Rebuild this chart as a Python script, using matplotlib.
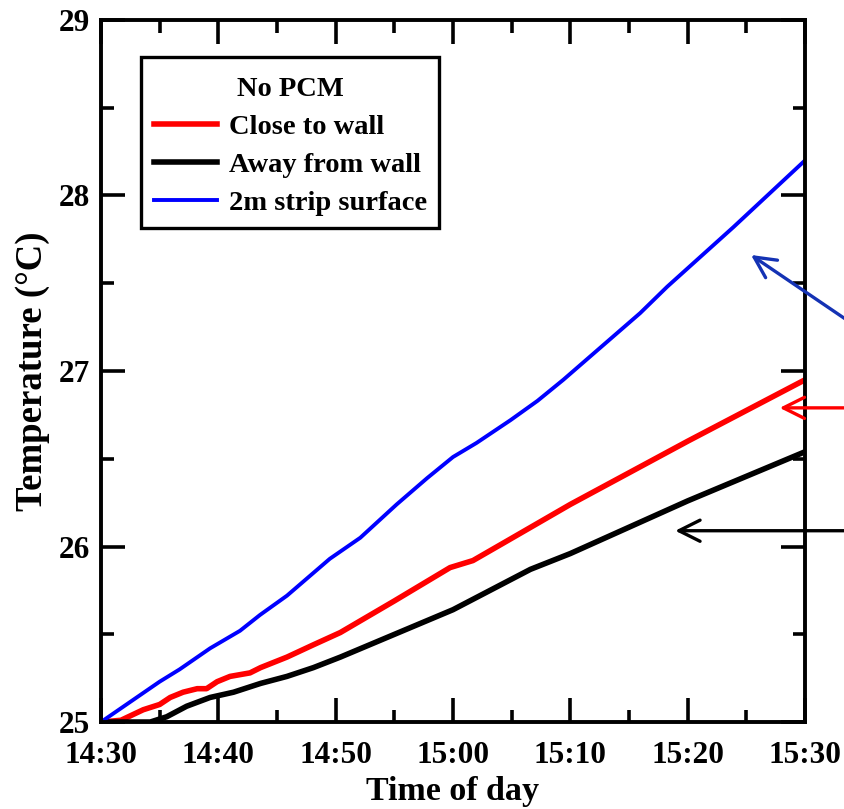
import numpy as np
import matplotlib.pyplot as plt
from matplotlib.patches import Rectangle
from matplotlib.ticker import MultipleLocator, FuncFormatter

# minutes after 14:30 and temperatures
t_blue = [0, 5, 6.7, 9.3, 11.85, 13.55, 15.85, 19.5, 22.1, 25.2, 27.8, 30, 32,
          34.9, 37.2, 39.4, 45.95, 48.25, 53.9, 60]
blue = [25.0, 25.23, 25.30, 25.42, 25.52, 25.61, 25.72, 25.93, 26.05, 26.24,
        26.39, 26.51, 26.59, 26.72, 26.83, 26.95, 27.33, 27.48, 27.82, 28.20]

t_red = [0, 1.7, 3.6, 5, 5.9, 7, 8.2, 9, 9.9, 11, 12.7, 13.6, 15.85, 18.1, 20.4,
         25, 29.75, 31.7, 34.3, 40, 50, 60]
red = [25.0, 25.01, 25.07, 25.10, 25.14, 25.17, 25.19, 25.19, 25.23, 25.26,
       25.28, 25.31, 25.37, 25.44, 25.51, 25.69, 25.88, 25.92, 26.02, 26.24,
       26.60, 26.95]

t_black = [0, 4.2, 5.6, 7.3, 9.3, 11.3, 13.6, 15.85, 18.1, 20.4, 30, 36.6, 40,
           50, 60]
black = [25.0, 25.0, 25.03, 25.09, 25.14, 25.17, 25.22, 25.26, 25.31, 25.37,
         25.64, 25.87, 25.96, 26.26, 26.54]

legend_title = 'No PCM'
labels = ['Close to wall', 'Away from wall', '2m strip surface']

plt.rcParams['font.family'] = 'Liberation Serif'
plt.rcParams['font.weight'] = 'bold'

fig = plt.figure(figsize=(8.45, 8.09), dpi=100)
ax = fig.add_axes([0.1195, 0.1075, 0.8332, 0.8678])

ax.plot(t_red, red, color='#ff0000', lw=4.0, label=labels[0])
ax.plot(t_black, black, color='black', lw=4.0, label=labels[1])
ax.plot(t_blue, blue, color='#0000ff', lw=2.8, label=labels[2])

ax.set_xlim(0, 60)
ax.set_ylim(25, 29)
ax.xaxis.set_major_locator(MultipleLocator(10))
ax.xaxis.set_minor_locator(MultipleLocator(5))
ax.yaxis.set_major_locator(MultipleLocator(1))
ax.yaxis.set_minor_locator(MultipleLocator(0.5))


def fmt_time(m, pos):
    total = 14 * 60 + 30 + int(round(m))
    return f'{total // 60}:{total % 60:02d}'


ax.xaxis.set_major_formatter(FuncFormatter(fmt_time))
ax.tick_params(which='both', direction='in', top=True, right=True, width=2.6,
               labelsize=22.5)
ax.tick_params(axis='x', pad=14)
ax.tick_params(axis='y', pad=8)
ax.tick_params(which='major', length=17)
ax.tick_params(which='minor', length=9)
for s in ax.spines.values():
    s.set_linewidth(2.8)

ax.set_xlabel('Time of day', fontsize=24.5, fontweight='bold', labelpad=4)
ax.set_ylabel('Temperature (°C)', fontsize=26.5, fontweight='bold', labelpad=6)

leg = ax.legend(title=legend_title, loc='upper left', bbox_to_anchor=(0.057, 0.937),
                fontsize=20.5, title_fontproperties={'size': 20.5, 'weight': 'bold'},
                frameon=False, handlelength=2.2, handletextpad=0.42,
                labelspacing=0.42, borderpad=0.45, borderaxespad=0)
# legend frame drawn separately so the padding can be uneven like the original
ax.add_patch(Rectangle((0.057, 0.7037), 0.423, 0.2433, transform=ax.transAxes,
                       fill=False, edgecolor='black', lw=2.4, zorder=5))

# arrows pointing at each curve from outside the right spine
ax.annotate('', xy=(55.2, 27.67), xytext=(66, 27.18),
            arrowprops=dict(arrowstyle='->', color='#1432b4', lw=2.4, mutation_scale=38),
            annotation_clip=False)
ax.annotate('', xy=(57.6, 26.79), xytext=(66, 26.79),
            arrowprops=dict(arrowstyle='->', color='#ff0000', lw=2.4, mutation_scale=38),
            annotation_clip=False)
ax.annotate('', xy=(48.7, 26.09), xytext=(66, 26.09),
            arrowprops=dict(arrowstyle='->', color='black', lw=2.4, mutation_scale=38),
            annotation_clip=False)

fig.savefig('out.png', dpi=100)
